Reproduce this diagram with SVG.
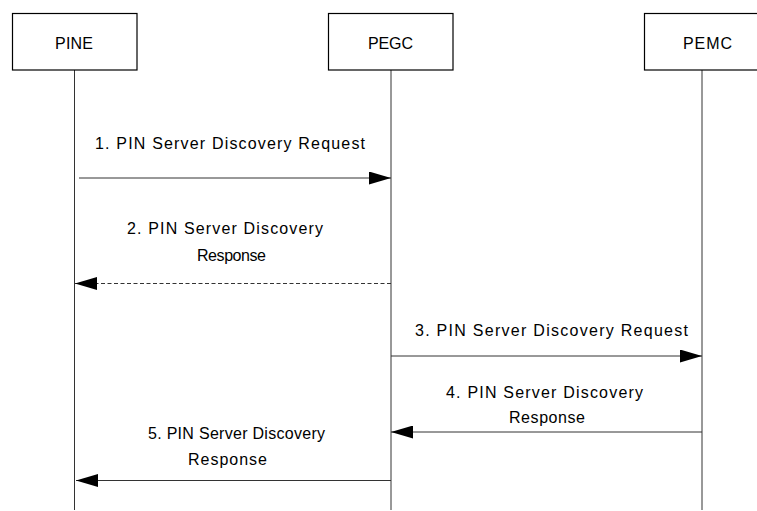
<svg xmlns="http://www.w3.org/2000/svg" width="757" height="511" viewBox="0 0 757 511">
<defs>
<style>
.box{fill:#fff;stroke:#000;stroke-width:1.2}
.life{stroke:#333;stroke-width:1;fill:none}
.msg{stroke:#333;stroke-width:1;fill:none}
.dash{stroke-dasharray:4 2.5}
text{font-family:"Liberation Sans",Arial,sans-serif;font-size:16px;fill:#000;text-anchor:middle}
</style>
<marker id="ah" viewBox="0 0 22 13" refX="22" refY="6.5" markerWidth="22" markerHeight="13" markerUnits="userSpaceOnUse" orient="auto">
<path d="M0,0 L22,6.5 L0,13 Z" fill="#000"/>
</marker>
</defs>
<rect width="757" height="511" fill="#fff"/>
<g id="PINE">
<line class="life" x1="74.5" y1="70" x2="74.5" y2="510"/>
<rect class="box" x="12.5" y="13.5" width="124.5" height="56.5"/>
<text x="74" y="48.5" textLength="38" lengthAdjust="spacing">PINE</text>
</g>
<g id="PEGC">
<line class="life" x1="391" y1="70" x2="391" y2="510"/>
<rect class="box" x="328.5" y="13.5" width="124.5" height="56.5"/>
<text x="390.5" y="48.5" textLength="45" lengthAdjust="spacing">PEGC</text>
</g>
<g id="PEMC">
<line class="life" x1="702" y1="70" x2="702" y2="510"/>
<rect class="box" x="644.5" y="13.5" width="126" height="56.5"/>
<text x="707.5" y="48.5" textLength="49" lengthAdjust="spacing">PEMC</text>
</g>
<g id="connectors">
<line class="msg" x1="79" y1="178" x2="391" y2="178" marker-end="url(#ah)"/>
<line class="msg dash" x1="391" y1="283.5" x2="75" y2="283.5" marker-end="url(#ah)"/>
<line class="msg" x1="391" y1="356" x2="702" y2="356" marker-end="url(#ah)"/>
<line class="msg" x1="702" y1="432" x2="391" y2="432" marker-end="url(#ah)"/>
<line class="msg" x1="391" y1="480.5" x2="76" y2="480.5" marker-end="url(#ah)"/>
</g>
<g id="labels">
<text x="230" y="148.5" textLength="270" lengthAdjust="spacing">1. PIN Server Discovery Request</text>
<text x="225" y="233.5" textLength="196" lengthAdjust="spacing">2. PIN Server Discovery</text>
<text x="231.5" y="260.5" textLength="69" lengthAdjust="spacing">Response</text>
<text x="551.5" y="335.5" textLength="273" lengthAdjust="spacing">3. PIN Server Discovery Request</text>
<text x="544.5" y="397.5" textLength="197" lengthAdjust="spacing">4. PIN Server Discovery</text>
<text x="547" y="422.5" textLength="76" lengthAdjust="spacing">Response</text>
<text x="236.5" y="438.5" textLength="177" lengthAdjust="spacing">5. PIN Server Discovery</text>
<text x="227.5" y="464.5" textLength="79" lengthAdjust="spacing">Response</text>
</g>
</svg>
